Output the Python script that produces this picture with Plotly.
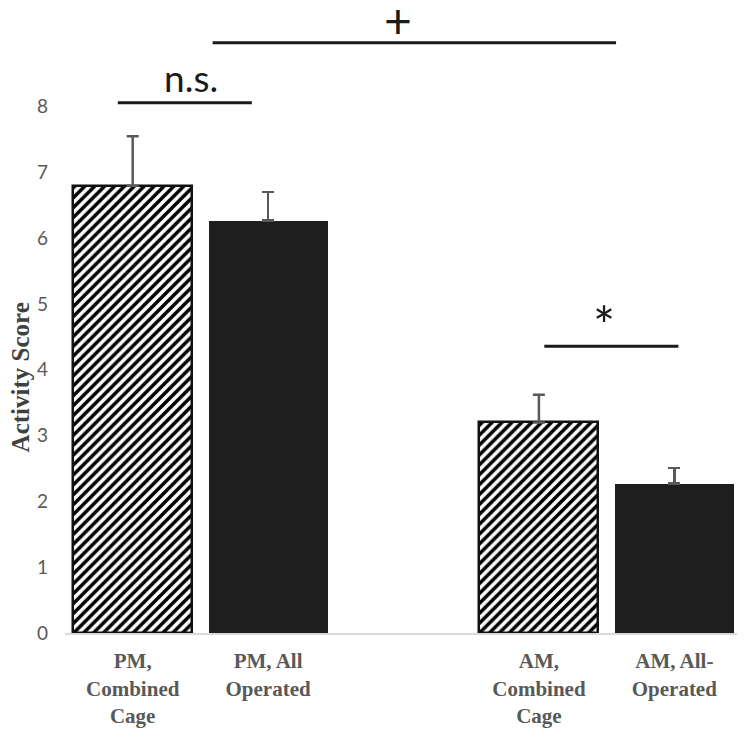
import plotly.graph_objects as go

# Data
categories = ["PM,<br>Combined<br>Cage", "PM, All<br>Operated", "AM,<br>Combined<br>Cage", "AM, All-<br>Operated"]
positions = [0, 1, 3, 4]
values = [6.80, 6.27, 3.20, 2.27]
errors = [0.75, 0.43, 0.42, 0.24]
hatched = [True, False, True, False]
y_ticks = [0, 1, 2, 3, 4, 5, 6, 7, 8]

fig = go.Figure()

for pos, val, err, h in zip(positions, values, errors, hatched):
    if h:
        marker = dict(color="white",
                      pattern=dict(shape="/", fgcolor="#000000", bgcolor="white", fgopacity=1,
                                   size=7, solidity=0.5, fillmode="replace"),
                      line=dict(color="#111111", width=2.5))
    else:
        marker = dict(color="#1e1e1e", line=dict(color="#1e1e1e", width=0))
    fig.add_trace(go.Bar(
        x=[pos], y=[val], width=0.88, marker=marker, showlegend=False,
        error_y=dict(type="data", array=[err], arrayminus=[0], symmetric=False,
                     color="#595959", thickness=2.5, width=6),
    ))

line_col = "#1a1a1a"
# significance lines
fig.add_shape(type="line", x0=-0.11, x1=0.88, y0=8.06, y1=8.06, line=dict(color=line_col, width=3))
fig.add_shape(type="line", x0=0.59, x1=3.57, y0=8.97, y1=8.97, line=dict(color=line_col, width=3))
fig.add_shape(type="line", x0=3.04, x1=4.03, y0=4.36, y1=4.36, line=dict(color=line_col, width=3))

fig.add_annotation(x=0.43, y=8.07, text="n.s.", showarrow=False, yanchor="bottom",
                   font=dict(family="Lato", size=37, color="#1a1a1a"))
fig.add_annotation(x=1.96, y=9.33, text="+", showarrow=False, yanchor="middle",
                   font=dict(family="Lato", size=48, color="#1a1a1a"))
fig.add_annotation(x=3.48, y=4.68, text="*", showarrow=False, yanchor="middle",
                   font=dict(family="Lato", size=52, color="#1a1a1a"))

# y-axis title as annotation centred on the data
fig.add_annotation(xref="paper", x=-0.066, xanchor="center", y=3.89, yanchor="middle",
                   text="<b>Activity Score</b>", textangle=-90,
                   showarrow=False, font=dict(family="Liberation Serif", size=25, color="#404040"))

fig.update_layout(
    width=737, height=730,
    margin=dict(l=57, r=3, t=0, b=105),
    plot_bgcolor="white", paper_bgcolor="white",
    bargap=0,
    xaxis=dict(range=[-0.5, 4.5], tickvals=positions, ticktext=["<b>%s</b>" % c for c in categories],
               showline=True, linecolor="#d9d9d9", linewidth=2, showgrid=False, zeroline=False,
               ticks="", ticklabelstandoff=8,
               tickfont=dict(family="Liberation Serif", size=21, color="#595959")),
    yaxis=dict(range=[0, 9.5], tickvals=y_ticks, showgrid=False, zeroline=False, showline=False,
               ticks="", ticklabelstandoff=16,
               tickfont=dict(family="Lato", size=19, color="#595959")),
)

fig.write_html("out.html")
